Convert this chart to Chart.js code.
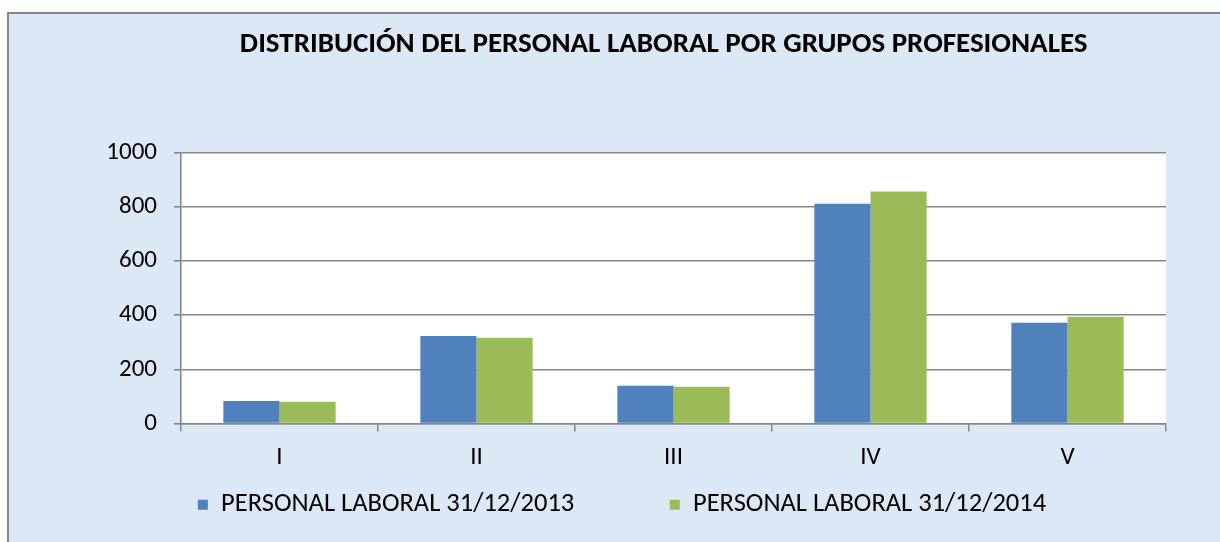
<!DOCTYPE html>
<html><head><meta charset="utf-8">
<script src="https://cdn.jsdelivr.net/npm/chart.js@4/dist/chart.umd.min.js"></script>
<style>html,body{margin:0;padding:0;background:#fff;overflow:hidden}#wrap{width:1220px;height:542px;position:relative}</style>
</head><body>
<div id="wrap"><canvas id="chart"></canvas></div>
<script>
const titleText = 'DISTRIBUCIÓN DEL PERSONAL LABORAL POR GRUPOS PROFESIONALES';
const categories = ['I', 'II', 'III', 'IV', 'V'];
const seriesNames = ['PERSONAL LABORAL 31/12/2013', 'PERSONAL LABORAL 31/12/2014'];
const values2013 = [83, 323, 139, 812, 372];
const values2014 = [80, 317, 136, 857, 394];
const yTicks = [0, 200, 400, 600, 800, 1000];

const bgPlugin = {
  id: 'bg',
  beforeDraw(chart) {
    const {ctx, chartArea: a, width, height} = chart;
    ctx.save();
    ctx.fillStyle = '#ffffff';
    ctx.fillRect(0, 0, width, height);
    ctx.fillStyle = '#dce8f6';
    ctx.fillRect(8, 13, width, height);
    ctx.strokeStyle = '#858585';
    ctx.lineWidth = 2;
    ctx.beginPath();
    ctx.moveTo(8, height + 5); ctx.lineTo(8, 13); ctx.lineTo(width + 5, 13);
    ctx.stroke();
    ctx.fillStyle = '#ffffff';
    ctx.fillRect(a.left, a.top, a.right - a.left, a.bottom - a.top);
    ctx.restore();
  }
};

Chart.defaults.font.family = 'Carlito, Calibri, sans-serif';
Chart.defaults.color = '#000';

new Chart(document.getElementById('chart'), {
  type: 'bar',
  data: {
    labels: categories,
    datasets: [
      {label: seriesNames[0], data: values2013, backgroundColor: '#4f81bd', borderWidth: 0},
      {label: seriesNames[1], data: values2014, backgroundColor: '#9bbb59', borderWidth: 0}
    ]
  },
  options: {
    responsive: true,
    maintainAspectRatio: false,
    animation: false,
    events: [],
    layout: {padding: {left: 78, right: 54, top: 0, bottom: 14}},
    datasets: {bar: {categoryPercentage: 0.57, barPercentage: 1.0}},
    plugins: {
      title: {
        display: true,
        text: titleText + '   ',
        fullSize: false,
        font: {size: 29, weight: 'bold', lineHeight: 1.2},
        color: '#000',
        padding: {top: 27, bottom: 91}
      },
      legend: {
        position: 'bottom',
        labels: {
          font: {size: 26.5},
          boxWidth: 10,
          boxHeight: 10,
          padding: 10,
          color: '#000',
          generateLabels(chart) {
            const items = Chart.defaults.plugins.legend.labels.generateLabels(chart);
            items[0].text = items[0].text + '\u2003\u2003\u2003 ';
            items.forEach(it => { it.lineWidth = 0; });
            return items;
          }
        }
      },
      tooltip: {enabled: false}
    },
    scales: {
      x: {
        grid: {display: true, drawOnChartArea: false, drawTicks: true, tickLength: 8, color: '#868686', lineWidth: 1.5, offset: true},
        border: {display: true, color: '#868686', width: 1.5},
        ticks: {font: {size: 25}, padding: 11, color: '#000'},
        afterFit(s) { s.height = 58; }
      },
      y: {
        min: 0, max: 1000,
        afterBuildTicks(s) { s.ticks = yTicks.map(v => ({value: v})); },
        grid: {color: '#868686', lineWidth: 1.6, tickLength: 7, drawTicks: true},
        border: {display: true, color: '#868686', width: 1.6},
        ticks: {font: {size: 25}, padding: 17, color: '#000', callback: v => String(v)},
        afterFit(s) { s.width = 103; }
      }
    }
  },
  plugins: [bgPlugin]
});
</script>
</body></html>
